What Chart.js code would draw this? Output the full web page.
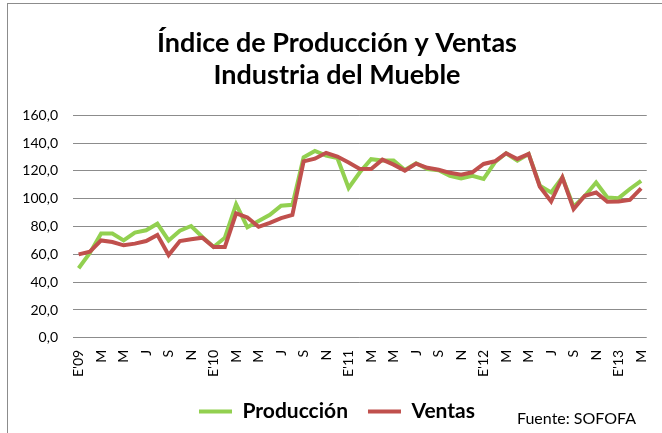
<!DOCTYPE html>
<html>
<head>
<meta charset="utf-8">
<script src="https://cdn.jsdelivr.net/npm/chart.js@4"></script>
<style>
  body { margin: 0; background: #fff; }
  #frame { position: absolute; left: 7px; top: 3px; width: 700px; height: 500px; border: 1px solid #8c8c8c; }
  #chart { position: absolute; left: 0; top: 0; }
</style>
</head>
<body>
<div id="frame"></div>
<canvas id="chart" width="662" height="433"></canvas>
<script>
// meses ene-2009 .. mar-2013
const categories = [
    "E'09", 'F', 'M', 'A', 'M', 'J', 'J', 'A', 'S', 'O', 'N', 'D',
    "E'10", 'F', 'M', 'A', 'M', 'J', 'J', 'A', 'S', 'O', 'N', 'D',
    "E'11", 'F', 'M', 'A', 'M', 'J', 'J', 'A', 'S', 'O', 'N', 'D',
    "E'12", 'F', 'M', 'A', 'M', 'J', 'J', 'A', 'S', 'O', 'N', 'D',
    "E'13", 'F', 'M'
];

const produccion = [
    50, 61, 75, 75, 70, 75.6, 77.3, 82, 70, 77, 80.4, 72.5,
    65.3, 72, 96, 79.5, 84, 88.4, 95, 95.6, 129.8, 134.3, 131, 129.3,
    107.7, 119, 128.4, 127.4, 127.4, 120.7, 125.5, 121.4, 120.5, 116.5, 114.6, 116.5,
    114.2, 126.2, 132.7, 127.4, 132.2, 109.3, 104.5, 115.3, 94.2, 102, 111.7, 100.9,
    100.4, 107, 112.9
];

const ventas = [
    60, 61.9, 70, 68.9, 66.5, 67.7, 69.6, 74, 59.5, 69.6, 70.8, 72,
    65.3, 65.3, 89.5, 86.5, 79.8, 82.6, 86, 88.4, 126.9, 128.8, 133, 130.3,
    126, 121.4, 121.4, 128.1, 124.5, 120.2, 125.2, 122.2, 120.8, 118.6, 117.3, 119,
    125, 126.9, 132.7, 128.6, 132.2, 108.6, 98, 115.3, 92.5, 102.1, 104.5, 97.8,
    98, 99.2, 107.4
];

const fuente = {
    id: 'fuente',
    afterDraw(chart) {
        const ctx = chart.ctx;
        ctx.save();
        ctx.font = '16px Lato';
        ctx.fillStyle = '#000';
        ctx.textAlign = 'left';
        ctx.textBaseline = 'middle';
        ctx.fillText('Fuente: SOFOFA', 517, 419);
        ctx.restore();
    }
};

new Chart(document.getElementById('chart'), {
    type: 'line',
    data: {
        labels: categories,
        datasets: [{
            label: 'Producción',
            data: produccion,
            borderColor: '#92d050',
            backgroundColor: '#92d050',
            borderWidth: 4,
            pointRadius: 0,
            tension: 0,
            order: 2
        }, {
            label: 'Ventas',
            data: ventas,
            borderColor: '#c0504d',
            backgroundColor: '#c0504d',
            borderWidth: 4,
            pointRadius: 0,
            tension: 0,
            order: 1
        }]
    },
    options: {
        responsive: false,
        animation: false,
        layout: {
            padding: { left: 21, right: 9, top: 0, bottom: 1 }
        },
        plugins: {
            title: {
                display: true,
                text: ['Índice de Producción y Ventas', 'Industria del Mueble'],
                color: '#000',
                font: { family: 'Lato', size: 27, weight: 'bold', lineHeight: 1.19 },
                padding: { top: 27, bottom: 24 }
            },
            legend: {
                position: 'bottom',
                labels: {
                    color: '#000',
                    font: { family: 'Lato', size: 21, weight: 'bold' },
                    boxWidth: 33,
                    boxHeight: 4,
                    padding: 20,
                    sort: (a, b) => a.datasetIndex - b.datasetIndex,
                    generateLabels(chart) {
                        const items = Chart.defaults.plugins.legend.labels.generateLabels(chart);
                        items.forEach(it => { it.lineWidth = 0; });
                        return items;
                    }
                }
            },
            tooltip: { enabled: false }
        },
        scales: {
            x: {
                offset: true,
                grid: { display: false },
                border: { display: false },
                ticks: {
                    color: '#000',
                    font: { family: 'Lato', size: 14 },
                    autoSkip: false,
                    minRotation: 90,
                    maxRotation: 90,
                    padding: 4,
                    callback(value, index) {
                        return index % 2 === 0 ? this.getLabelForValue(value) : '';
                    }
                }
            },
            y: {
                min: 0,
                max: 160,
                afterFit(scale) { scale.width = 52; },
                grid: { color: '#8c8c8c', lineWidth: 1, drawTicks: false },
                border: { display: false },
                ticks: {
                    stepSize: 20,
                    color: '#000',
                    font: { family: 'Lato', size: 14 },
                    padding: 15,
                    callback: (v) => v.toFixed(1).replace('.', ',')
                }
            }
        }
    },
    plugins: [fuente]
});
</script>
</body>
</html>
